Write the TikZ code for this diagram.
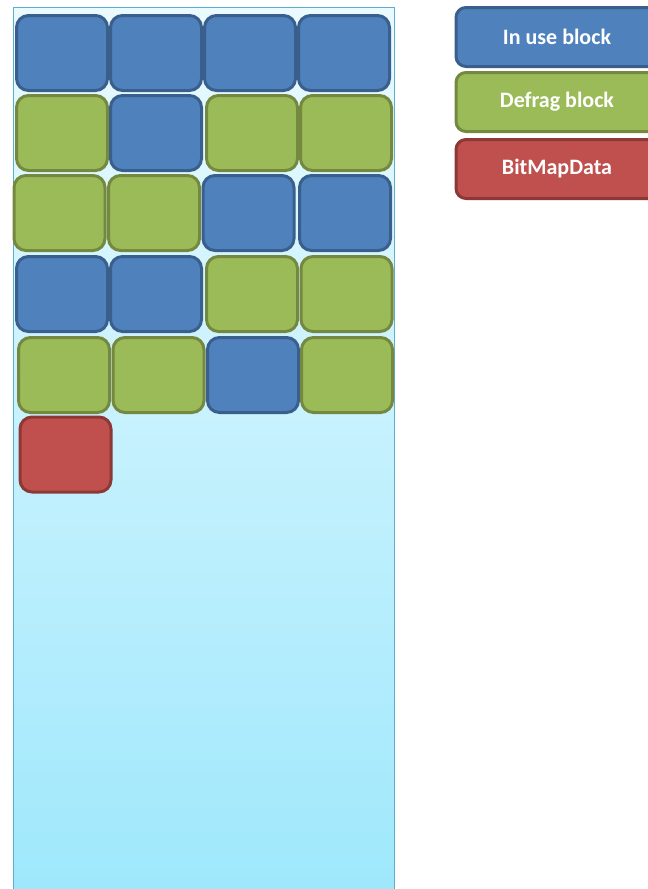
\documentclass[tikz,border=0pt]{standalone}
\usepackage{fontspec}
\setmainfont{Carlito}
\usetikzlibrary{positioning}
\definecolor{useblue}{HTML}{4F81BD}
\definecolor{useblueedge}{HTML}{3A5F8C}
\definecolor{fraggreen}{HTML}{9BBB59}
\definecolor{fraggreenedge}{HTML}{74893F}
\definecolor{mapred}{HTML}{C0504D}
\definecolor{mapredge}{HTML}{8C3836}
\definecolor{disktop}{HTML}{EAFAFF}
\definecolor{diskbottom}{HTML}{9EE8FC}
\definecolor{diskedge}{HTML}{5AAFCF}

\begin{document}
\begin{tikzpicture}[x=1pt, y=-1pt,
    block/.style={rounded corners=12pt, line width=3pt, minimum width=91pt, minimum height=75pt, inner sep=0pt},
    usedblk/.style={block, fill=useblue, draw=useblueedge},
    defragblk/.style={block, fill=fraggreen, draw=fraggreenedge},
    bitmapblk/.style={block, fill=mapred, draw=mapredge},
    legend/.style={rounded corners=10pt, line width=3pt, minimum width=202pt, minimum height=59pt, text=white, font=\fontsize{22}{26}\selectfont\bfseries}]
    \useasboundingbox (0,0) rectangle (648,889);
    \clip (0,0) rectangle (648,889);

    % Disk area
    \shade[top color=disktop, bottom color=diskbottom] (13,7) rectangle (394,895);
    \draw[line width=1pt, diskedge] (13,7) rectangle (394,895);

    % Blocks, row by row
    \foreach \cx/\cy/\kind [count=\i] in {
        62/53/usedblk, 156/53/usedblk, 250/53/usedblk, 344/53/usedblk,
        62/133/defragblk, 156/133/usedblk, 252/133/defragblk, 346/133/defragblk,
        59.5/213/defragblk, 154/213/defragblk, 248.5/213/usedblk, 345/213/usedblk,
        62/294/usedblk, 156/294/usedblk, 252/294/defragblk, 346.5/294/defragblk,
        64/375/defragblk, 158.5/375/defragblk, 253/375/usedblk, 347/375/defragblk,
        65.5/454.5/bitmapblk} {
        \node[\kind] (blk\i) at (\cx,\cy) {};
    }

    % Legend
    \node[legend, fill=useblue, draw=useblueedge] (leginuse) at (557,37) {In use block};
    \node[legend, fill=fraggreen, draw=fraggreenedge, below=3pt of leginuse] (legdefrag) {Defrag block};
    \node[legend, fill=mapred, draw=mapredge, below=5pt of legdefrag] (legbitmap) {BitMapData};
\end{tikzpicture}
\end{document}
